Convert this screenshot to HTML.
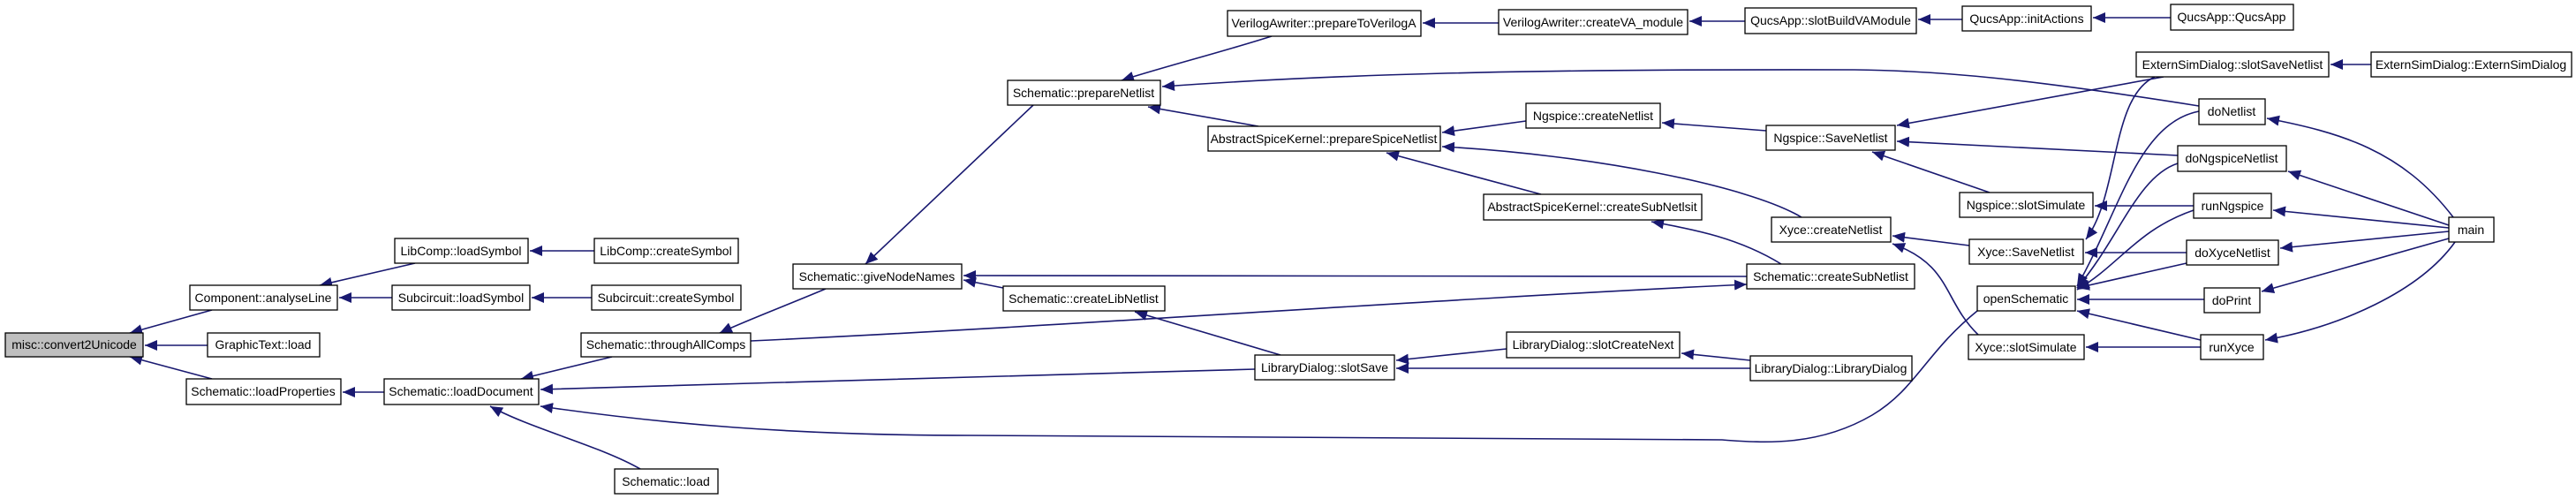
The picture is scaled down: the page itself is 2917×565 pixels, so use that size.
<!DOCTYPE html>
<html><head><meta charset="utf-8"><style>
html,body{margin:0;padding:0;background:#fff;}
svg{display:block}
text{font-family:"Liberation Sans",sans-serif;font-size:14px;fill:#000}
</style></head><body>
<svg width="2917" height="565" viewBox="0 0 2917 565" xmlns="http://www.w3.org/2000/svg">
<defs>
<marker id="a" markerUnits="userSpaceOnUse" markerWidth="16" markerHeight="12" refX="14" refY="6" orient="auto">
<path d="M0,0 L14,6 L0,12 z" fill="#191970"/>
</marker>
</defs>
<g fill="none" stroke="#191970" stroke-width="1.6" marker-end="url(#a)">
<path d="M240,351 L147,377"/>
<path d="M235,391 L164,391"/>
<path d="M240,429 L147,404"/>
<path d="M470,298 L362,323"/>
<path d="M444,337 L384,337"/>
<path d="M673,284 L600,284"/>
<path d="M670,337 L602,337"/>
<path d="M435,444 L388,444"/>
<path d="M693,404 L590,429"/>
<path d="M725,531 C680,505 600,485 555,460"/>
<path d="M1421,418 L850,434 L612,441"/>
<path d="M2239,352 C2180,400 2170,440 2120,470 C2060,505 2000,502 1950,498 L1100,493 C900,493 750,480 612,460"/>
<path d="M935,327 C880,350 840,365 815,377"/>
<path d="M850,386 C1200,370 1600,340 1978,322"/>
<path d="M1170,119 L980,299"/>
<path d="M1136,326 L1091,317"/>
<path d="M1978,313 L1091,312"/>
<path d="M1450,402 L1285,353"/>
<path d="M1706,395 L1581,408"/>
<path d="M1982,417 L1581,417"/>
<path d="M1982,408 L1904,400"/>
<path d="M1440,41 C1380,60 1320,75 1270,91"/>
<path d="M2490,120 C2300,90 2200,80 2100,79 C1700,78 1500,85 1316,98"/>
<path d="M1425,143 L1300,121"/>
<path d="M1697,26 L1611,26"/>
<path d="M1976,24 L1913,24"/>
<path d="M2222,22 L2172,22"/>
<path d="M2458,20 L2370,20"/>
<path d="M1728,137 L1633,150"/>
<path d="M2040,246 C1980,210 1800,175 1633,166"/>
<path d="M1745,220 L1570,173"/>
<path d="M2017,299 C1970,270 1920,260 1870,251"/>
<path d="M2000,148 L1882,139"/>
<path d="M2450,87 L2148,142"/>
<path d="M2466,176 L2148,160"/>
<path d="M2253,218 L2120,172"/>
<path d="M2685,73 L2639,73"/>
<path d="M2230,278 L2143,267"/>
<path d="M2240,379 C2200,340 2210,300 2143,276"/>
<path d="M2440,87 C2390,110 2400,220 2362,271"/>
<path d="M2476,286 L2361,286"/>
<path d="M2484,233 L2372,233"/>
<path d="M2492,393 L2362,393"/>
<path d="M2490,126 C2420,140 2400,240 2352,324"/>
<path d="M2466,185 C2420,200 2400,270 2352,326"/>
<path d="M2484,238 C2420,260 2400,300 2352,328"/>
<path d="M2476,298 L2352,326"/>
<path d="M2496,339 L2352,339"/>
<path d="M2492,385 L2352,352"/>
<path d="M2778,246 C2720,170 2650,150 2567,134"/>
<path d="M2773,255 L2591,194"/>
<path d="M2773,258 L2574,238"/>
<path d="M2773,262 L2582,281"/>
<path d="M2773,270 L2561,330"/>
<path d="M2780,274 C2740,330 2650,370 2565,385"/>
</g>
<g stroke="#000" stroke-width="1.3" fill="#fff">
<rect x="6" y="377" width="156" height="27" fill="#bfbfbf"/>
<rect x="215" y="323" width="167" height="28"/>
<rect x="235" y="377" width="127" height="27"/>
<rect x="211" y="429" width="175" height="29"/>
<rect x="447" y="270" width="151" height="28"/>
<rect x="444" y="323" width="156" height="28"/>
<rect x="673" y="270" width="163" height="28"/>
<rect x="670" y="323" width="169" height="28"/>
<rect x="658" y="377" width="192" height="27"/>
<rect x="435" y="429" width="175" height="29"/>
<rect x="696" y="531" width="117" height="28"/>
<rect x="1390" y="12" width="219" height="29"/>
<rect x="1697" y="11" width="214" height="28"/>
<rect x="1141" y="91" width="173" height="28"/>
<rect x="1368" y="143" width="263" height="28"/>
<rect x="1728" y="117" width="152" height="28"/>
<rect x="1680" y="220" width="247" height="29"/>
<rect x="898" y="299" width="191" height="28"/>
<rect x="1136" y="324" width="183" height="28"/>
<rect x="1421" y="402" width="158" height="28"/>
<rect x="1706" y="376" width="196" height="29"/>
<rect x="1976" y="9" width="194" height="29"/>
<rect x="2222" y="7" width="146" height="28"/>
<rect x="2458" y="5" width="139" height="29"/>
<rect x="2419" y="59" width="218" height="28"/>
<rect x="2685" y="59" width="227" height="28"/>
<rect x="2490" y="112" width="75" height="29"/>
<rect x="2000" y="142" width="146" height="28"/>
<rect x="2466" y="165" width="123" height="29"/>
<rect x="2219" y="218" width="151" height="28"/>
<rect x="2484" y="219" width="88" height="28"/>
<rect x="2773" y="246" width="51" height="28"/>
<rect x="2006" y="246" width="135" height="28"/>
<rect x="2230" y="271" width="129" height="28"/>
<rect x="2476" y="272" width="104" height="28"/>
<rect x="1978" y="299" width="190" height="28"/>
<rect x="2239" y="324" width="111" height="28"/>
<rect x="2496" y="326" width="63" height="28"/>
<rect x="2229" y="379" width="131" height="28"/>
<rect x="2492" y="379" width="71" height="28"/>
<rect x="1982" y="403" width="183" height="28"/>
</g>
<g text-anchor="middle">
<text x="84" y="395">misc::convert2Unicode</text>
<text x="298" y="342">Component::analyseLine</text>
<text x="298" y="395">GraphicText::load</text>
<text x="298" y="448">Schematic::loadProperties</text>
<text x="522" y="289">LibComp::loadSymbol</text>
<text x="522" y="342">Subcircuit::loadSymbol</text>
<text x="754" y="289">LibComp::createSymbol</text>
<text x="754" y="342">Subcircuit::createSymbol</text>
<text x="754" y="395">Schematic::throughAllComps</text>
<text x="522" y="448">Schematic::loadDocument</text>
<text x="754" y="550">Schematic::load</text>
<text x="1499" y="31">VerilogAwriter::prepareToVerilogA</text>
<text x="1804" y="30">VerilogAwriter::createVA_module</text>
<text x="1227" y="110">Schematic::prepareNetlist</text>
<text x="1499" y="162">AbstractSpiceKernel::prepareSpiceNetlist</text>
<text x="1804" y="136">Ngspice::createNetlist</text>
<text x="1803" y="239">AbstractSpiceKernel::createSubNetlsit</text>
<text x="993" y="318">Schematic::giveNodeNames</text>
<text x="1227" y="343">Schematic::createLibNetlist</text>
<text x="1500" y="421">LibraryDialog::slotSave</text>
<text x="1804" y="395">LibraryDialog::slotCreateNext</text>
<text x="2073" y="28">QucsApp::slotBuildVAModule</text>
<text x="2295" y="26">QucsApp::initActions</text>
<text x="2527" y="24">QucsApp::QucsApp</text>
<text x="2528" y="78">ExternSimDialog::slotSaveNetlist</text>
<text x="2798" y="78">ExternSimDialog::ExternSimDialog</text>
<text x="2527" y="131">doNetlist</text>
<text x="2073" y="161">Ngspice::SaveNetlist</text>
<text x="2527" y="184">doNgspiceNetlist</text>
<text x="2294" y="237">Ngspice::slotSimulate</text>
<text x="2528" y="238">runNgspice</text>
<text x="2798" y="265">main</text>
<text x="2073" y="265">Xyce::createNetlist</text>
<text x="2294" y="290">Xyce::SaveNetlist</text>
<text x="2528" y="291">doXyceNetlist</text>
<text x="2073" y="318">Schematic::createSubNetlist</text>
<text x="2294" y="343">openSchematic</text>
<text x="2527" y="345">doPrint</text>
<text x="2294" y="398">Xyce::slotSimulate</text>
<text x="2527" y="398">runXyce</text>
<text x="2073" y="422">LibraryDialog::LibraryDialog</text>
</g>
</svg>
</body></html>
